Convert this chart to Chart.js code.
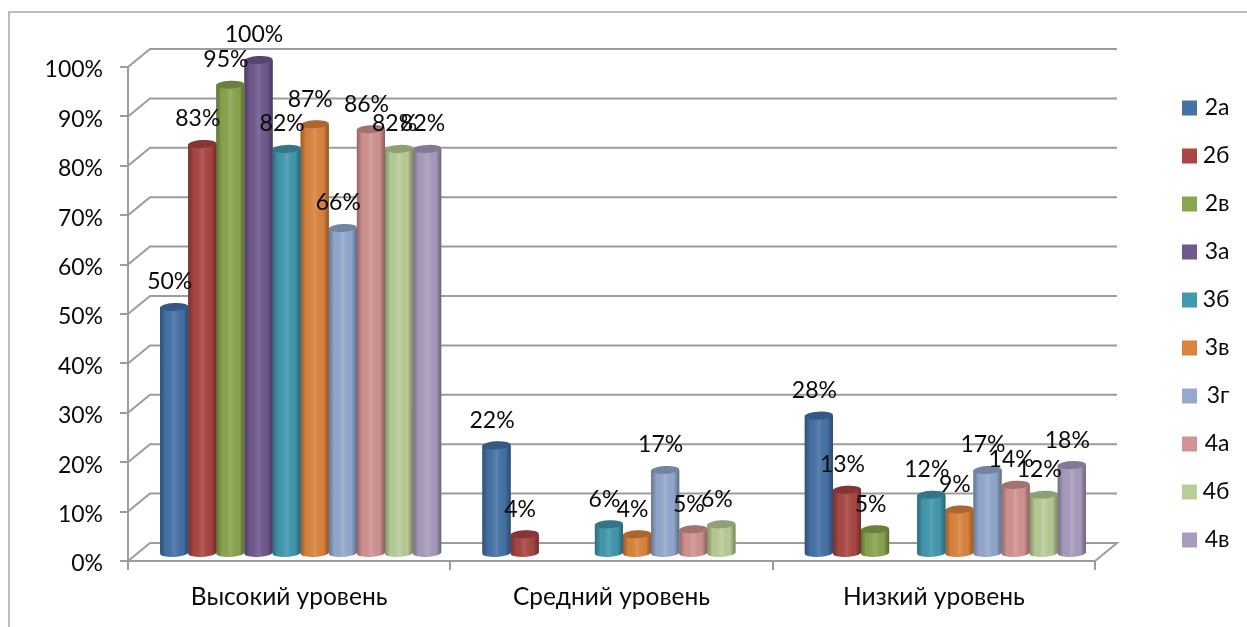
<!DOCTYPE html>
<html><head><meta charset="utf-8">
<style>html,body{margin:0;padding:0;background:#fff}canvas{display:block}</style>
<script src="https://cdn.jsdelivr.net/npm/chart.js@4/dist/chart.umd.min.js"></script>
</head><body><canvas id="c" width="1247" height="627"></canvas>
<script>
const categories = ['Высокий уровень','Средний уровень','Низкий уровень'];
const seriesNames = ['2а','2б','2в','3а','3б','3в','3г','4а','4б','4в'];
const v2a = [50,22,28];
const v2b = [83,4,13];
const v2v = [95,null,5];
const v3a = [100,null,null];
const v3b = [82,6,12];
const v3v = [87,4,9];
const v3g = [66,17,17];
const v4a = [86,5,14];
const v4b = [82,6,12];
const v4v = [82,null,18];
const seriesValues = [v2a,v2b,v2v,v3a,v3b,v3v,v3g,v4a,v4b,v4v];
const colors = ['#4572A7','#AA4643','#89A54E','#71588F','#4198AF','#DB843D','#93A9CF','#D19392','#B9CD96','#A99BBD'];

const FONT = 'Lato, "Open Sans", sans-serif';
const DX = 11.5, DY = -7, BACK_X = 22, BACK_Y = -18, GRID = '#9c9c9c';

const cylinders = {
  id:'cylinders',
  beforeDraw(chart){
    const c = chart.ctx; c.save();
    c.strokeStyle='#a8a8a8'; c.lineWidth=1.5;
    c.beginPath(); c.moveTo(9,627); c.lineTo(9,12); c.lineTo(1247,12); c.stroke();
    c.restore();
  },
  beforeDatasetsDraw(chart){
    const c = chart.ctx, y = chart.scales.y, a = chart.chartArea;
    c.save(); c.strokeStyle=GRID; c.lineWidth=2;
    y.ticks.forEach(t=>{
      const p = y.getPixelForValue(t.value);
      c.beginPath(); c.moveTo(a.left,p); c.lineTo(a.left+BACK_X,p+BACK_Y); c.lineTo(a.right+BACK_X,p+BACK_Y);
      if(t.value===0) c.lineTo(a.right,p);
      c.stroke();
    });
    c.restore();
  },
  beforeDatasetDraw(chart){ chart.ctx.save(); chart.ctx.translate(DX,DY); },
  afterDatasetDraw(chart,args){
    const c = chart.ctx, col = colors[args.index], vals = chart.data.datasets[args.index].data;
    args.meta.data.forEach((el,j)=>{
      if(vals[j]==null) return;
      const w = el.width, l = el.x-w/2, rx = w/2, ry = 4, tilt = -0.05;
      const g = c.createLinearGradient(l,0,l+w,0);
      g.addColorStop(0,'rgba(0,0,0,.3)');
      g.addColorStop(.2,'rgba(0,0,0,.02)');
      g.addColorStop(.5,'rgba(255,255,255,.12)');
      g.addColorStop(.8,'rgba(0,0,0,.02)');
      g.addColorStop(1,'rgba(0,0,0,.36)');
      c.beginPath();
      c.moveTo(l,el.y); c.lineTo(l+w,el.y); c.lineTo(l+w,el.base);
      c.ellipse(el.x,el.base,rx,ry,tilt,0,Math.PI);
      c.closePath();
      c.fillStyle=col; c.fill();
      c.fillStyle=g; c.fill();
      c.beginPath(); c.ellipse(el.x,el.y,rx,ry,tilt,0,Math.PI*2);
      c.fillStyle=col; c.fill();
      c.fillStyle='rgba(0,0,0,.22)'; c.fill();
    });
    c.restore();
  },
  afterDatasetsDraw(chart){
    const c = chart.ctx; c.save();
    c.font='23px '+FONT; c.fillStyle='#0a0a0a'; c.textAlign='center'; c.textBaseline='middle';
    chart.data.datasets.forEach((ds,i)=>{
      chart.getDatasetMeta(i).data.forEach((el,j)=>{
        const v = ds.data[j]; if(v==null) return;
        c.fillText(v+'%', el.x+DX-4.5, el.y+DY-25);
      });
    });
    c.restore();
  },
  afterLayout(chart){
    const l = chart.legend, p = l.options.labels.padding;
    const h = l.bottom-l.top;
    l.left = 1182-p; l.right = 1229.5;
    l.top = 96.5-p; l.bottom = l.top+h;
  }
};

new Chart(document.getElementById('c'),{
  type:'bar',
  data:{labels:categories,datasets:seriesNames.map((n,i)=>({
    label:n,data:seriesValues[i],backgroundColor:colors[i],borderWidth:0,clip:false,
    barPercentage:1,categoryPercentage:0.872}))},
  options:{
    responsive:false,animation:false,
    layout:{padding:{left:0,top:67,right:92,bottom:0}},
    plugins:{
      tooltip:{enabled:false},
      legend:{position:'right',align:'start',maxWidth:60,
        labels:{boxWidth:15,boxHeight:15,padding:25,textAlign:'right',color:'#0a0a0a',font:{family:FONT,size:23}}}
    },
    scales:{
      x:{
        afterFit(s){s.height=66;},
        grid:{drawOnChartArea:false,drawTicks:true,tickLength:9,color:GRID,lineWidth:2},
        border:{display:true,color:GRID,width:2},
        ticks:{color:'#0a0a0a',padding:12,maxRotation:0,font:{family:FONT,size:24.5}}
      },
      y:{
        min:0,max:100,
        afterFit(s){s.width=128;},
        grid:{drawOnChartArea:false,drawTicks:true,tickLength:8,color:GRID,lineWidth:2},
        border:{display:true,color:GRID,width:2},
        ticks:{stepSize:10,color:'#0a0a0a',padding:17,labelOffset:3,font:{family:FONT,size:23},callback:v=>v+'%'}
      }
    }
  },
  plugins:[cylinders]
});
</script></body></html>
